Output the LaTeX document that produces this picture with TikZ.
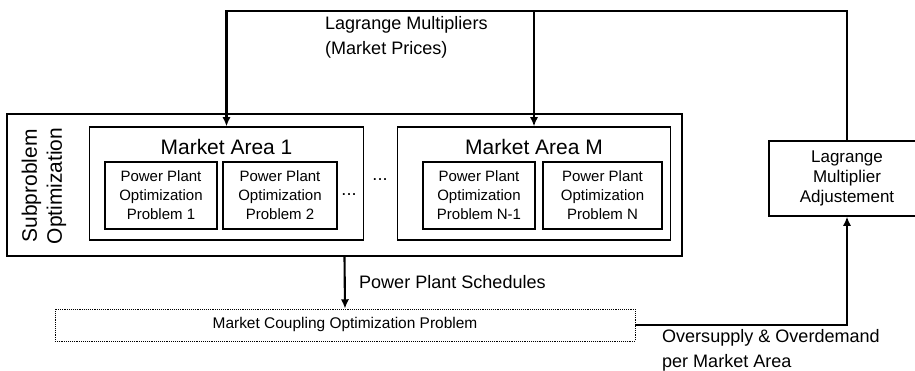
\documentclass[tikz,border=0pt]{standalone}
\usepackage{fontspec}
\setmainfont{Liberation Sans}
\usetikzlibrary{arrows.meta, positioning, calc}

\begin{document}
\begin{tikzpicture}[
    x=0.03cm, y=-0.03cm,
    box/.style={rectangle, draw, line width=0.9pt, inner sep=0pt},
    plant/.style={box, minimum height=2.01cm, align=center, font=\fontsize{12.8}{16.2}\selectfont},
    area/.style={box, minimum width=8.2cm, minimum height=3.39cm},
    title/.style={font=\fontsize{17.9}{21}\selectfont},
    label/.style={align=left, font=\fontsize{15.4}{21.3}\selectfont},
    arrow/.style={-{Latex[length=8pt, width=7pt]}, line width=1.8pt}
]
\useasboundingbox (0,0) rectangle (915,371);

% Subproblem block
\node[box, minimum width=20.25cm, minimum height=4.26cm] (sub) at (344.5,185) {};
\node[rotate=90, align=center, font=\fontsize{17.9}{21.3}\selectfont] (subtext) at (44,186) {Subproblem\\Optimization};

% Market area 1
\node[area] (ma1) at (226.5,183.5) {};
\node[title] (ma1title) at (226.5,147) {Market Area 1};
\node[plant, minimum width=3.36cm] (pp1) at (161,195.5) {Power Plant\\Optimization\\Problem 1};
\node[plant, minimum width=3.42cm] (pp2) at (280,195.5) {Power Plant\\Optimization\\Problem 2};
\node[label] (dots1) at (349,195) {...};

\node[label] (dots2) at (380,180) {...};

% Market area M
\node[area] (maM) at (534,183.5) {};
\node[title] (maMtitle) at (534,147) {Market Area M};
\node[plant, minimum width=3.36cm] (ppN1) at (479,195.5) {Power Plant\\Optimization\\Problem N-1};
\node[plant, minimum width=3.57cm] (ppN) at (602.5,195.5) {Power Plant\\Optimization\\Problem N};

% Multiplier update
\node[box, minimum width=4.68cm, minimum height=2.25cm, align=center, font=\fontsize{14.5}{17}\selectfont] (lag) at (847,178.5) {Lagrange\\Multiplier\\Adjustement};

% Coupling problem
\node[rectangle, draw, densely dotted, line width=0.6pt, minimum width=17.4cm, minimum height=0.96cm, font=\fontsize{13.2}{16}\selectfont] (mc) at (345,325) {Market Coupling Optimization Problem};

% Labels
\node[label, anchor=west] (prices) at (321,37.5) {Lagrange Multipliers\\(Market Prices)};
\node[label, anchor=west] (sched) at (355,282) {Power Plant Schedules};
\node[label, anchor=west] (over) at (658,350) {Oversupply \& Overdemand\\per Market Area};

% Arrows
\coordinate (ctop) at (847,11);
\draw[arrow] (lag.north) -- (ctop) -| (ma1.north);
\draw[arrow] (ctop -| maM.north) -- (maM.north);
\draw[arrow] (sub.south) -- (mc.north);
\draw[arrow] (mc.east) -| (lag.south);

\end{tikzpicture}
\end{document}
